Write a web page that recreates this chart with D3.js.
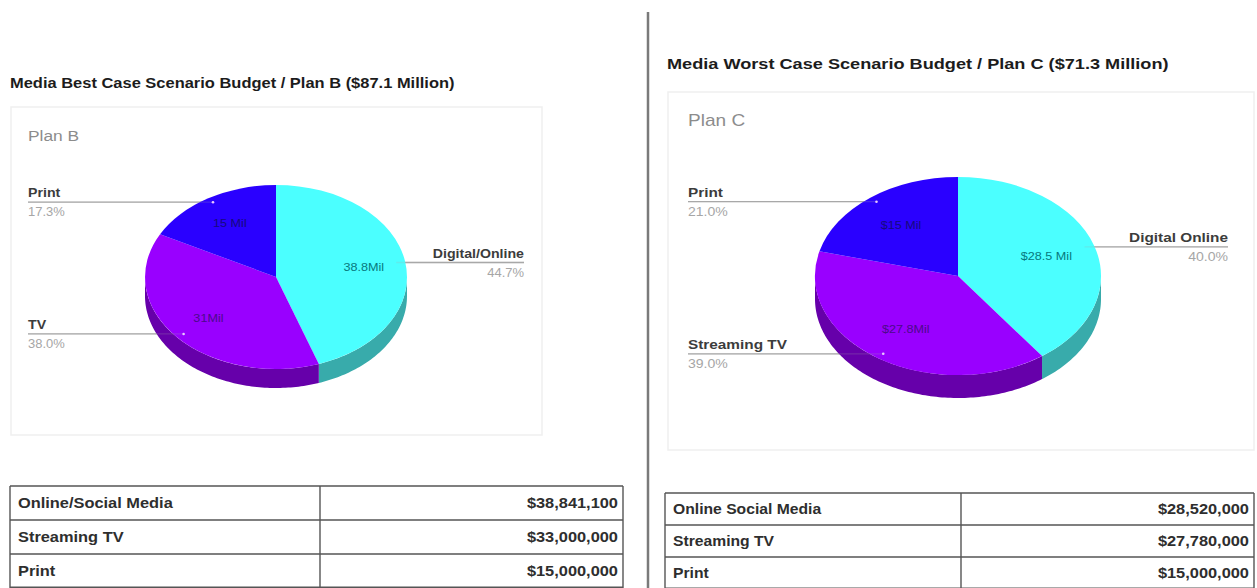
<!DOCTYPE html>
<html>
<head>
<meta charset="utf-8">
<script src="https://cdn.jsdelivr.net/npm/d3@7"></script>
<style>
  html, body { margin: 0; padding: 0; background: #fff; overflow: hidden; }
  svg { display: block; font-family: "Liberation Sans", Arial, sans-serif; }
</style>
</head>
<body>
<svg id="chart" width="1257" height="588"></svg>
<script>
// Budget split for each media plan
const planBCategories = ["Digital/Online", "TV", "Print"];
const planBShares = [44.7, 38.0, 17.3];
const planBSliceLabels = ["38.8Mil", "31Mil", "15 Mil"];
const planBRows = ["Online/Social Media", "Streaming TV", "Print"];
const planBAmounts = ["$38,841,100", "$33,000,000", "$15,000,000"];

const planCCategories = ["Digital Online", "Streaming TV", "Print"];
const planCShares = [40.0, 39.0, 21.0];
const planCSliceLabels = ["$28.5 Mil", "$27.8Mil", "$15 Mil"];
const planCRows = ["Online Social Media", "Streaming TV", "Print"];
const planCAmounts = ["$28,520,000", "$27,780,000", "$15,000,000"];

const topColors = ["#4bffff", "#9900ff", "#2a00ff"];
const wallColors = ["#38abab", "#6600aa", "#1c00aa"];
const sliceTextColors = ["#07797d", "#4d0a8c", "#160a80"];

const svg = d3.select("#chart");

// Widen a text run horizontally by factor k, keeping its height
function widen(sel, k) {
  sel.each(function () {
    const t = d3.select(this);
    t.attr("textLength", this.getComputedTextLength() * k)
      .attr("lengthAdjust", "spacingAndGlyphs");
  });
  return sel;
}

// Central divider between the two plans
svg.append("line")
  .attr("x1", 648).attr("x2", 648).attr("y1", 12).attr("y2", 588)
  .attr("stroke", "#7a7a7a").attr("stroke-width", 2.5);

function drawPlan(p) {
  const g = svg.append("g");

  g.append("text").text(p.heading)
    .attr("x", p.headingX).attr("y", p.headingY)
    .attr("font-size", p.headingSize).attr("font-weight", 700).attr("fill", "#1c1c1c")
    .call(widen, p.headingWiden);

  g.append("rect")
    .attr("x", p.card[0]).attr("y", p.card[1])
    .attr("width", p.card[2] - p.card[0]).attr("height", p.card[3] - p.card[1])
    .attr("fill", "#fff").attr("stroke", "#efefef").attr("stroke-width", 1.5);

  g.append("text").text(p.name)
    .attr("x", p.labelLeft).attr("y", p.nameY)
    .attr("font-size", p.nameSize).attr("fill", "#8c8c8c")
    .call(widen, 1.12);

  const slices = d3.pie().sort(null).value(d => d)(p.shares);
  const x = d3.scaleLinear().domain([-1, 1]).range([p.cx - p.rx, p.cx + p.rx]);
  const y = d3.scaleLinear().domain([-1, 1]).range([p.cy - p.ry, p.cy + p.ry]);

  // Unit-circle angle (clockwise from 12 o'clock) onto the tilted ellipse
  const px = (a, f = 1) => x(Math.sin(a) * f);
  const py = (a, f = 1) => y(-Math.cos(a) * f);
  const midAngle = s => (s.startAngle + s.endAngle) / 2;

  // Leader lines sit under the pie; only a faint trace shows across the slices
  const leader = (s, opacity) => {
    const a = midAngle(s);
    const endX = a < Math.PI ? p.labelRight : p.labelLeft;
    g.append("line")
      .attr("x1", px(a, 0.93)).attr("x2", endX)
      .attr("y1", py(a, 0.95)).attr("y2", py(a, 0.95))
      .attr("stroke", "#a8a8a8").attr("stroke-width", 1.3)
      .attr("stroke-opacity", opacity);
  };
  slices.forEach(s => leader(s, 1));

  // Side wall: only the part of a slice on the near half of the ellipse is visible
  slices.forEach((s, i) => {
    const a0 = Math.max(s.startAngle, Math.PI / 2);
    const a1 = Math.min(s.endAngle, Math.PI * 1.5);
    if (a1 <= a0) return;
    const angles = d3.range(a0, a1, 0.02).concat([a1]);
    const wall = d3.area()
      .x(a => px(a))
      .y0(a => py(a))
      .y1(a => py(a) + p.depth);
    g.append("path").attr("d", wall(angles)).attr("fill", wallColors[i]);
  });

  // Top face: a unit arc stretched onto the ellipse
  const arc = d3.arc().innerRadius(0).outerRadius(1);
  g.append("g")
    .attr("transform", `translate(${p.cx},${p.cy}) scale(${p.rx},${p.ry})`)
    .selectAll("path").data(slices).join("path")
    .attr("d", arc)
    .attr("fill", (d, i) => topColors[i]);

  slices.forEach(s => leader(s, 0.22));

  // Value labels inside the slices
  slices.forEach((s, i) => {
    const mid = midAngle(s);
    g.append("text").text(p.sliceLabels[i])
      .attr("x", px(mid, p.labelReach)).attr("y", py(mid, p.labelReach) + 4)
      .attr("text-anchor", "middle").attr("font-size", 10.5)
      .attr("fill", sliceTextColors[i])
      .call(widen, 1.2);
  });

  // Category and share at the outer end of each leader
  slices.forEach((s, i) => {
    const mid = midAngle(s);
    const onRight = mid < Math.PI;
    const ax = px(mid, 0.93), ay = py(mid, 0.95);
    const endX = onRight ? p.labelRight : p.labelLeft;
    const anchor = onRight ? "end" : "start";

    if (!onRight) {
      g.append("circle").attr("cx", ax).attr("cy", ay).attr("r", 1.3).attr("fill", "#e9c8ff");
    }
    g.append("text").text(p.categories[i])
      .attr("x", endX).attr("y", ay - 5).attr("text-anchor", anchor)
      .attr("font-size", p.calloutSize).attr("font-weight", 700).attr("fill", "#3c3c3c")
      .call(widen, 1.18);
    g.append("text").text(d3.format(".1f")(p.shares[i]) + "%")
      .attr("x", endX).attr("y", ay + 14).attr("text-anchor", anchor)
      .attr("font-size", p.calloutSize).attr("fill", "#a6a6a6")
      .call(widen, 1.08);
  });

  // Budget table under the chart
  const rowY = d3.scaleBand().domain(p.rows).range([p.table[1], p.table[3]]);
  const lineStyle = sel => sel.attr("stroke", "#555").attr("stroke-width", 1.4);

  p.rows.forEach((r, i) => {
    const top = rowY(r), mid = top + rowY.bandwidth() / 2 + 5;
    g.append("line").attr("x1", p.table[0]).attr("x2", p.table[2])
      .attr("y1", top).attr("y2", top).call(lineStyle);
    g.append("text").text(r).attr("x", p.table[0] + 8).attr("y", mid)
      .attr("font-size", 14).attr("font-weight", 700).attr("fill", "#2e2e2e")
      .call(widen, p.tableWiden);
    g.append("text").text(p.amounts[i]).attr("x", p.table[2] - 5).attr("y", mid)
      .attr("text-anchor", "end")
      .attr("font-size", 14).attr("font-weight", 700).attr("fill", "#2e2e2e")
      .call(widen, 1.17);
  });
  g.append("line").attr("x1", p.table[0]).attr("x2", p.table[2])
    .attr("y1", p.table[3] - 0.7).attr("y2", p.table[3] - 0.7).call(lineStyle);
  [p.table[0], p.colX, p.table[2]].forEach(cx => {
    g.append("line").attr("x1", cx).attr("x2", cx)
      .attr("y1", p.table[1]).attr("y2", p.table[3]).call(lineStyle);
  });
}

drawPlan({
  heading: "Media Best Case Scenario Budget / Plan B ($87.1 Million)",
  headingX: 10, headingY: 88, headingSize: 14.5, headingWiden: 1.135,
  name: "Plan B", nameY: 141, nameSize: 15.5,
  card: [11, 107, 542, 435],
  cx: 276, cy: 277, rx: 131, ry: 92, depth: 19, labelReach: 0.68,
  labelLeft: 28, labelRight: 524, calloutSize: 12,
  categories: planBCategories, shares: planBShares, sliceLabels: planBSliceLabels,
  rows: planBRows, amounts: planBAmounts, tableWiden: 1.17,
  table: [10, 486, 623, 588], colX: 320
});

drawPlan({
  heading: "Media Worst Case Scenario Budget / Plan C ($71.3 Million)",
  headingX: 667, headingY: 69, headingSize: 15.5, headingWiden: 1.17,
  name: "Plan C", nameY: 126, nameSize: 17,
  card: [668, 92, 1254, 450],
  cx: 958, cy: 276, rx: 143, ry: 99, depth: 23, labelReach: 0.65,
  labelLeft: 688, labelRight: 1228, calloutSize: 13,
  categories: planCCategories, shares: planCShares, sliceLabels: planCSliceLabels,
  rows: planCRows, amounts: planCAmounts, tableWiden: 1.12,
  table: [665, 493, 1254, 589], colX: 961
});
</script>
</body>
</html>
